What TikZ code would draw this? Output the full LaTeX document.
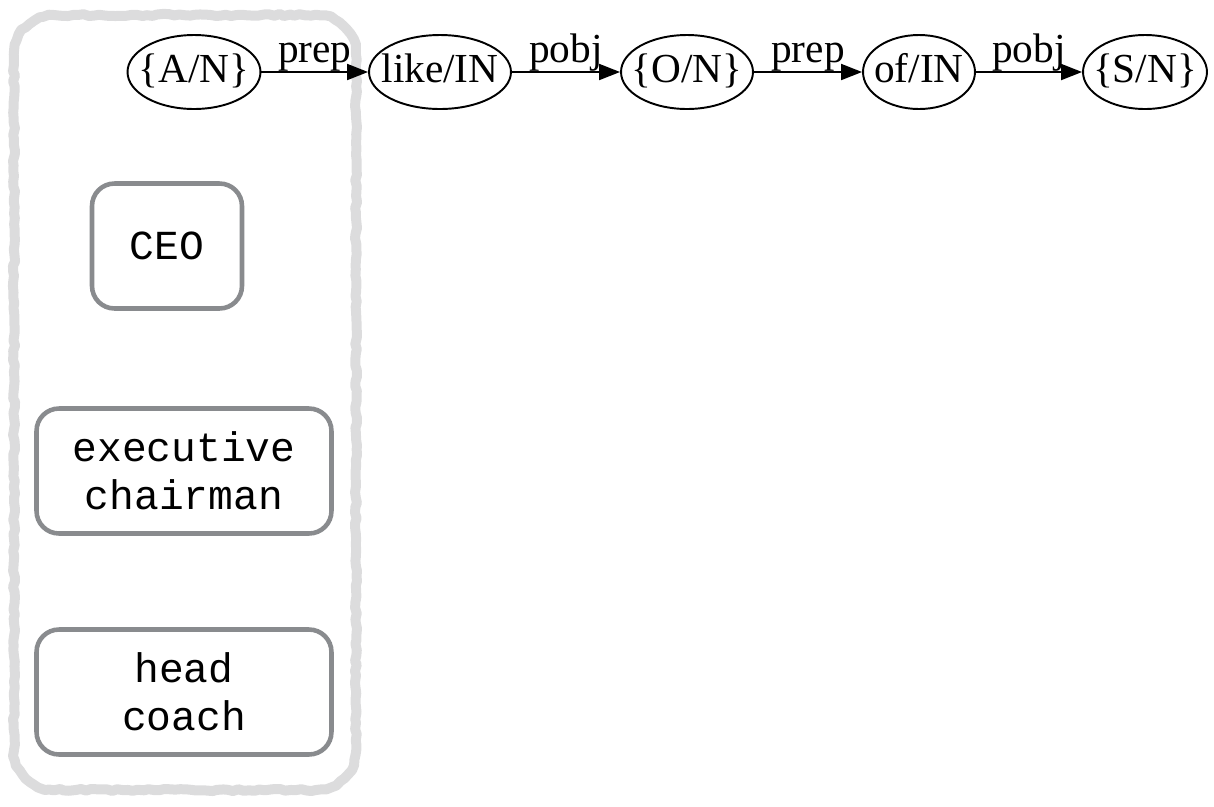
\documentclass[tikz,border=0pt]{standalone}
\usepackage{fontspec}
\setmainfont{Liberation Serif}
\setmonofont{Liberation Mono}
\usepackage{tikz}
\usetikzlibrary{shapes.geometric, arrows.meta, decorations.pathmorphing}
\definecolor{panelGray}{HTML}{DCDCDD}
\definecolor{boxGray}{HTML}{898B8E}

\begin{document}
\begin{tikzpicture}[
    x=0.02cm, y=-0.02cm,
    every node/.style={font=\fontsize{23.5}{27}\selectfont, align=center},
    word/.style={
        ellipse, draw=black, line width=1.1pt,
        minimum height=1.48cm, inner ysep=0pt, inner xsep=-20pt,
        text height=17pt, text depth=4.6pt
    },
    term/.style={
        rectangle, rounded corners=0.45cm,
        draw=boxGray, line width=2.6pt,
        font=\fontsize{23.5}{27.5}\selectfont\ttfamily,
        minimum height=2.5cm, inner sep=0pt
    },
    dep/.style={-{Triangle[length=0.42cm, width=0.32cm]}, line width=1.1pt},
    deplabel/.style={midway, anchor=south, inner sep=0pt},
    rough/.style={draw=panelGray, line width=0.2cm, line join=round, sharp corners,
        decorate, decoration={random steps, segment length=3pt, amplitude=0.6pt}},
]
\useasboundingbox (0,0) rectangle (1214,806);

% === PANEL (rough grey frame) ===
\path[rounded corners=0.8cm, postaction={rough}] (14,15) rectangle (356,790);

% === TERMS ===
\node[term, minimum width=3.0cm] (ceo) at (167,246) {CEO};
\node[term, minimum width=5.9cm] (exec) at (184,471) {executive\\chairman};
\node[term, minimum width=5.9cm] (coach) at (184,692) {head\\coach};

% === PATTERN ===
\node[word, minimum width=2.66cm] (an) at (194,72) {\{A/N\}};
\node[word, minimum width=2.84cm] (like) at (440,72) {like/IN};
\node[word, minimum width=2.64cm] (on) at (687,72) {\{O/N\}};
\node[word, minimum width=2.24cm] (of) at (919,72) {of/IN};
\node[word, minimum width=2.48cm] (sn) at (1145,72) {\{S/N\}};

% === ARROWS ===
\draw[dep] (an) -- (like) node[deplabel] {prep};
\draw[dep] (like) -- (on) node[deplabel] {pobj};
\draw[dep] (on) -- (of) node[deplabel] {prep};
\draw[dep] (of) -- (sn) node[deplabel] {pobj};
\end{tikzpicture}
\end{document}
